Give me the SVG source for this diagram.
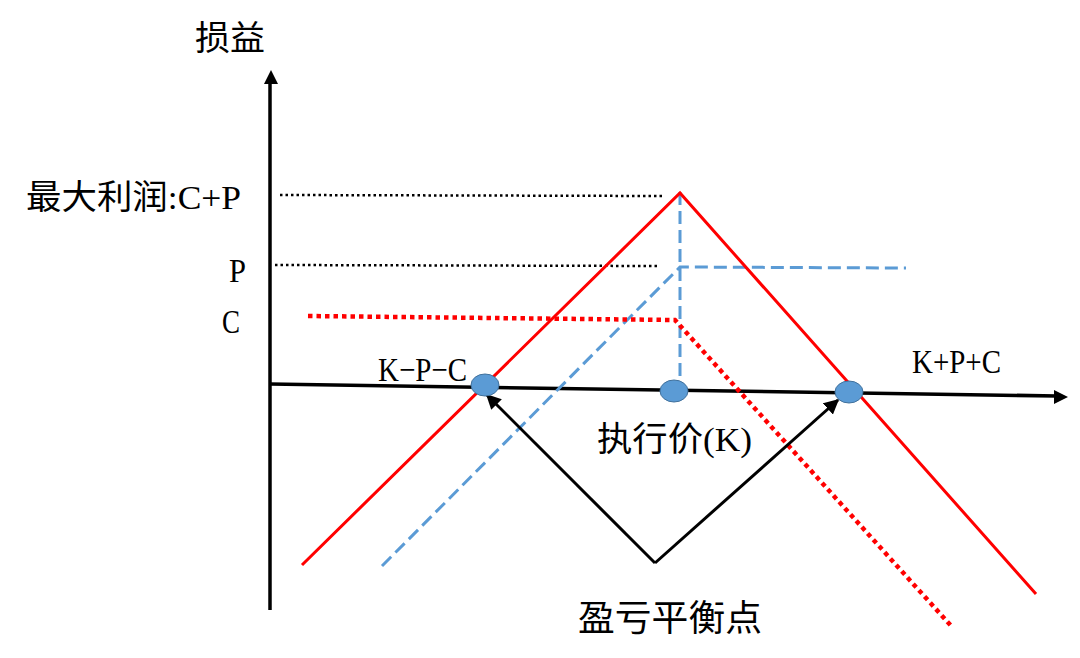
<svg xmlns="http://www.w3.org/2000/svg" width="1080" height="658" viewBox="0 0 1080 658">
<defs>
<style>
.t{font-family:"Liberation Serif","Noto Sans CJK SC",serif;fill:#000;}
.axis{stroke:#000;stroke-width:3.5;fill:none;}
.red{stroke:#FF0000;stroke-width:3;fill:none;}
.reddot{stroke:#FF0000;stroke-width:4.5;stroke-dasharray:4.5 4;fill:none;}
.blue{stroke:#5B9BD5;stroke-width:3;stroke-dasharray:13 6;fill:none;}
.kdot{stroke:#000;stroke-width:2.5;stroke-dasharray:2.5 3;fill:none;}
.arr{stroke:#000;stroke-width:3;fill:none;marker-end:url(#ah);}
.pt{fill:#5B9BD5;stroke:#41719C;stroke-width:1;}
</style>
<marker id="ah" viewBox="0 0 10 10" refX="9" refY="5" markerWidth="5" markerHeight="5" orient="auto" markerUnits="strokeWidth">
<path d="M0,0 L10,5 L0,10 Z" fill="#000"/>
</marker>
</defs>
<rect width="1080" height="658" fill="#fff"/>
<g id="connectors">
<g id="axes">
<line class="axis" x1="270" y1="610" x2="270" y2="80"/>
<polygon points="271,70 264,84 278,84" fill="#000"/>
<line class="axis" x1="270" y1="384" x2="1057" y2="396"/>
<polygon points="1068,397 1054,390 1054,404" fill="#000"/>
</g>
<g id="guides">
<line class="kdot" x1="280" y1="195" x2="663" y2="196"/>
<line class="kdot" x1="275" y1="265" x2="659" y2="266"/>
</g>
<g id="short-call-blue">
<polyline class="blue" points="382,566 680,267 906,268"/>
<line class="blue" x1="680" y1="192" x2="680" y2="382"/>
</g>
<g id="short-put-red">
<polyline class="reddot" points="308,316 675,320 953,628"/>
</g>
<g id="straddle-red">
<polyline class="red" points="302,565 680,193 1036,594"/>
</g>
<g id="breakeven-arrows">
<polyline class="arr" points="655,563 487,395"/>
<polyline class="arr" points="655,563 838,400"/>
</g>
</g>
<g id="node-kpc"><ellipse class="pt" cx="485" cy="385" rx="14" ry="11"/></g>
<g id="node-k"><ellipse class="pt" cx="674" cy="391" rx="14" ry="11"/></g>
<g id="node-kpc2"><ellipse class="pt" cx="849" cy="392" rx="14" ry="11"/></g>
<g id="labels">
<text class="t" x="195" y="50" font-size="34" textLength="70" lengthAdjust="spacingAndGlyphs">损益</text>
<text class="t" x="26" y="209" font-size="34" textLength="215" lengthAdjust="spacingAndGlyphs">最大利润:C+P</text>
<text class="t" x="229" y="282" font-size="34" textLength="17" lengthAdjust="spacingAndGlyphs">P</text>
<text class="t" x="222" y="333" font-size="34" textLength="18" lengthAdjust="spacingAndGlyphs">C</text>
<text class="t" x="378" y="381" font-size="34" textLength="89" lengthAdjust="spacingAndGlyphs">K−P−C</text>
<text class="t" x="912" y="373" font-size="34" textLength="89" lengthAdjust="spacingAndGlyphs">K+P+C</text>
<text class="t" x="597" y="451" font-size="34" textLength="155" lengthAdjust="spacingAndGlyphs">执行价(K)</text>
<text class="t" x="578" y="631" font-size="36" textLength="184" lengthAdjust="spacingAndGlyphs">盈亏平衡点</text>
</g>
</svg>
